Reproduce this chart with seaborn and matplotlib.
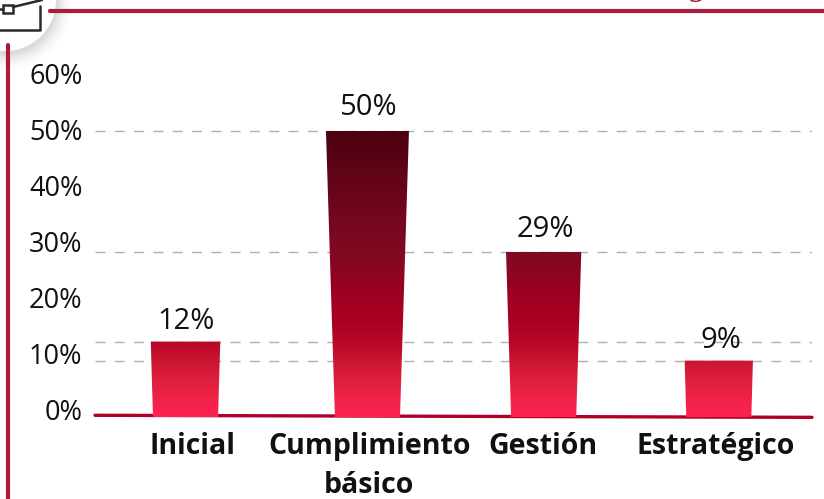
import matplotlib
matplotlib.use('Agg')
import matplotlib.pyplot as plt
import numpy as np
import pandas as pd
import seaborn as sns
from matplotlib.colors import LinearSegmentedColormap
from matplotlib.lines import Line2D
from matplotlib.patches import Circle, Polygon, Rectangle
from matplotlib.transforms import ScaledTranslation

categories = ['Inicial', 'Cumplimiento\nbásico', 'Gestión', 'Estratégico']
value_labels = ['12%', '50%', '29%', '9%']
# bar heights as drawn in the picture, they differ a bit from the printed labels
bar_heights = [12.4, 50, 28.4, 9]
y_ticks = [0, 10, 20, 30, 40, 50, 60]
y_tick_labels = ['0%', '10%', '20%', '30%', '40%', '50%', '60%']

W, H = 824, 499
RED = '#ab1c3a'

sns.set_theme(style='white')
plt.rcParams['font.family'] = ['Open Sans', 'DejaVu Sans']

df = pd.DataFrame({'nivel': categories, 'valor': bar_heights})

fig = plt.figure(figsize=(W / 100, H / 100), dpi=100)
# axes in pixels: x 95-812, y 75 (60%) down to 417
ax = fig.add_axes([95 / W, 1 - 417 / H, (812 - 95) / W, (417 - 75) / H])
sns.barplot(data=df, x='nivel', y='valor', ax=ax, width=0.363, color='#c00a28')

ymin, ymax = -1.07, 60
ax.set_xlim(-0.5, 3.5)
ax.set_ylim(ymin, ymax)
ax.set_xlabel('')
ax.set_ylabel('')

cmap = LinearSegmentedColormap.from_list('rojo', [
    (0.0, '#ff2450'), (0.123, '#e0203f'), (0.257, '#b80a28'), (0.335, '#aa0022'),
    (0.44, '#9a0022'), (0.574, '#800a20'), (0.687, '#75081e'), (1.0, '#4e0010')])
grad = np.linspace(0, 1, 256).reshape(-1, 1)

# the bars are not evenly spaced in the picture
nudge = [0.005, 0.02, 0.003, -0.02]
label_nudge = [0.0, 0.0, 0.01, 0.01]
label_lift = [2.2, 2.93, 2.75, 2.2]

for bar, txt, dx, ldx, lift in zip(ax.patches, value_labels, nudge, label_nudge, label_lift):
    x0, w, top = bar.get_x() + dx, bar.get_width(), bar.get_height()
    # bars are wider at the top
    flare = 0.001 * top
    bar.set_visible(False)
    poly = Polygon([(x0, ymin), (x0 + w, ymin), (x0 + w + flare, top), (x0 - flare, top)],
                   closed=True, transform=ax.transData, fc='none', ec='none')
    ax.add_patch(poly)
    im = ax.imshow(grad, origin='lower', aspect='auto', cmap=cmap, zorder=3,
                   extent=(x0 - 0.1, x0 + w + 0.1, ymin, 50))
    im.set_clip_path(poly)
    ax.text(x0 + w / 2 + ldx, top + lift, txt, ha='center', va='baseline', fontsize=21,
            color='#111111', zorder=4)

ax.set_xlim(-0.5, 3.5)
ax.set_ylim(ymin, ymax)

# dashed grid sits on the bar tops, not on the ticks
ax.yaxis.remove_overlapping_locs = False
ax.set_yticks(y_ticks)
ax.set_yticklabels(y_tick_labels, fontsize=19.5, color='#111111')
ax.set_yticks(bar_heights, minor=True)
ax.grid(True, which='minor', axis='y', color='#b0b0b0', linestyle=(0, (7.2, 6.7)), linewidth=1)
ax.grid(False, which='major')
ax.set_axisbelow(True)
ax.tick_params(axis='y', which='both', length=0, pad=9)
ax.set_xticks(np.arange(4) + np.array([0.045, 0.03, 0.0, -0.035]), categories)
ax.tick_params(axis='x', length=0, pad=11)
for t in ax.get_xticklabels():
    t.set_fontsize(20.5)
    t.set_fontweight('bold')
    t.set_color('#111111')
    t.set_linespacing(1.44)
# y labels sit about 2 px higher than the ticks
up = ScaledTranslation(0, 2 / 100, fig.dpi_scale_trans)
for t in ax.get_yticklabels():
    t.set_transform(t.get_transform() + up)
sns.despine(ax=ax, left=True, bottom=True)

# tilted base line
ax.add_line(Line2D([0, 1], [0.005, -0.001], transform=ax.transAxes, color='#b00028',
                   linewidth=2.4, clip_on=False, zorder=2))

# page decoration, in figure pixels
deco = fig.add_axes([0, 0, 1, 1], zorder=5)
deco.set_xlim(0, W)
deco.set_ylim(H, 0)
deco.axis('off')
deco.patch.set_alpha(0)
deco.add_line(Line2D([50, W], [10.5, 10.5], color=RED, linewidth=3))
deco.add_line(Line2D([8, 8], [45, H], color=RED, linewidth=3))
for r, a in zip(range(66, 50, -2), [0.008, 0.01, 0.012, 0.015, 0.02, 0.02, 0.025, 0.03]):
    deco.add_patch(Circle((6, 3), r, fc='#000000', ec='none', alpha=a))
deco.add_patch(Circle((5, 0), 51, fc='white', ec='none'))
deco.add_line(Line2D([-2, 40, 40], [30, 30, 6], color='#2a2a2a', linewidth=1.8))
deco.add_line(Line2D([13, 42], [7, 0], color='#2a2a2a', linewidth=1.8))
deco.add_line(Line2D([-2, 3], [9, 9], color='#2a2a2a', linewidth=1.8))
deco.add_patch(Rectangle((3, 5), 10, 8, fc='none', ec='#2a2a2a', linewidth=1.8))
deco.text(695, -4, 'g', ha='center', va='baseline', fontsize=20, fontweight='bold',
          family='Liberation Serif', color=RED)

fig.savefig('out.png', dpi=100)
